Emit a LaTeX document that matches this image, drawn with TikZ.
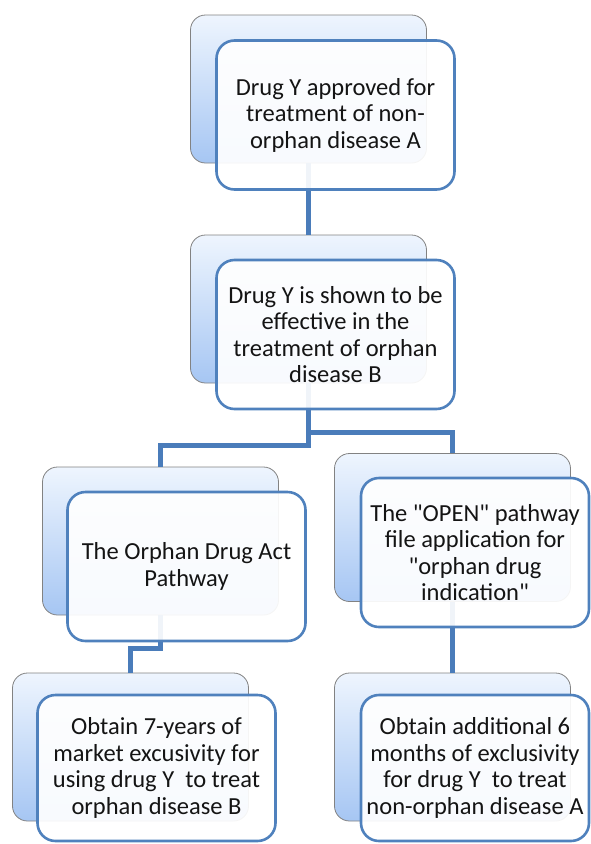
\documentclass[tikz,border=0pt]{standalone}
\usepackage{fontspec}
\setmainfont[Ligatures=TeXOff]{Carlito}
\definecolor{connblue}{RGB}{74,124,186}
\definecolor{frontblue}{RGB}{79,129,189}
\definecolor{backtop}{RGB}{238,245,254}
\definecolor{backbot}{RGB}{166,198,243}
\definecolor{backedge}{RGB}{130,130,130}
\definecolor{textgray}{RGB}{20,20,20}
\begin{document}
\begin{tikzpicture}[x=1pt,y=-1pt,
  backbox/.style={draw=backedge, line width=0.8pt, rounded corners=15pt,
    top color=backtop, bottom color=backbot,
    minimum width=236pt, minimum height=148pt, inner sep=0pt},
  frontbox/.style={draw=frontblue, line width=2.6pt, rounded corners=18pt,
    fill=white, fill opacity=0.92, text opacity=1,
    minimum width=238pt, minimum height=149pt, inner sep=0pt,
    align=center, font=\fontsize{24.5}{26.5}\selectfont, text=textgray},
  conn/.style={draw=connblue, line width=5pt}]
\useasboundingbox (0,0) rectangle (591,844);
% back boxes
\node[backbox] (b1) at (308.5,89) {};
\node[backbox] (b2) at (308.5,309) {};
\node[backbox] (b3) at (160.5,541) {};
\node[backbox] (b4) at (452.5,527.5) {};
\node[backbox] (b5) at (130.5,747) {};
\node[backbox] (b6) at (452.5,747) {};
% junction levels
\coordinate (jl) at (0,445);
\coordinate (jr) at (0,432);
\coordinate (jb) at (0,648);
% connectors
\draw[conn] (b1.south) -- (b2.north);
\draw[conn] (b2.south) -- (b2.south |- jl) -- (b3.north |- jl) -- (b3.north);
\draw[conn] (b2.south) -- (b2.south |- jr) -- (b4.north |- jr) -- (b4.north);
\draw[conn] (b3.south) -- (b3.south |- jb) -- (b5.north |- jb) -- (b5.north);
\draw[conn] (b4.south) -- (b6.north);
% front boxes
\node[frontbox] (f1) at (335.5,115) {Drug Y approved for\\treatment of non-\\orphan disease A};
\node[frontbox] (f2) at (335.5,334.5) {Drug Y is shown to be\\effective in the\\treatment of orphan\\disease B};
\node[frontbox] (f3) at (186.5,566.5) {The Orphan Drug Act\\Pathway};
\node[frontbox, minimum width=228pt] (f4) at (475,552.5) {The "OPEN" pathway\\file application for\\"orphan drug\\indication"};
\node[frontbox, minimum height=146pt] (f5) at (156.5,768) {Obtain 7-years of\\market excusivity for\\using drug Y\ \ to treat\\orphan disease B};
\node[frontbox, minimum width=228pt, minimum height=146pt] (f6) at (475,768) {Obtain additional 6\\months of exclusivity\\for drug Y\ \ to treat\\non-orphan disease A};
\end{tikzpicture}
\end{document}
